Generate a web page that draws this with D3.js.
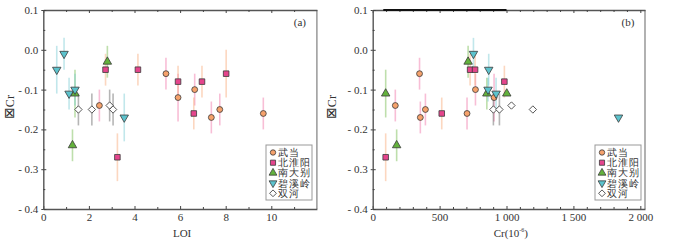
<!DOCTYPE html>
<html><head><meta charset="utf-8">
<script src="https://cdn.jsdelivr.net/npm/d3@7"></script>
<style>
body{margin:0;background:#fff;}
svg{display:block;}
text{font-family:"Liberation Serif","Times New Roman",serif;}
</style></head>
<body>
<svg id="c" width="700" height="241"></svg>
<script>
// ---------- DATA ----------
// each point: [x, dCr, error half-length]
const seriesNames = ["武当","北淮阳","南大别","碧溪岭","双河"];
// Panel (a): LOI
const wudangA   = [[2.46,-0.14,0.04],[5.38,-0.06,0.04],[5.91,-0.12,0.06],[6.64,-0.10,0.04],[7.37,-0.17,0.04],[7.74,-0.15,0.04],[9.65,-0.16,0.04]];
const beihuaiyangA = [[2.73,-0.05,0.04],[4.15,-0.05,0.04],[5.91,-0.08,0.04],[6.60,-0.16,0.04],[6.96,-0.08,0.04],[8.02,-0.06,0.06],[3.25,-0.27,0.06]];
const nandabieA = [[1.39,-0.11,0.06],[1.28,-0.24,0.04],[2.81,-0.03,0.04]];
const bixilingA = [[0.59,-0.05,0.06],[0.91,-0.01,0.04],[1.13,-0.11,0.04],[1.39,-0.10,0.04],[3.55,-0.17,0.06]];
const shuangheA = [[1.54,-0.15,0.04],[2.13,-0.15,0.04],[2.91,-0.14,0.04],[3.06,-0.15,0.04]];
// Panel (b): Cr (10^-6)
const wudangB   = [[350,-0.06,0.04],[169,-0.14,0.04],[394,-0.15,0.04],[356,-0.17,0.04],[705,-0.16,0.04],[768,-0.10,0.04],[907,-0.12,0.06]];
const beihuaiyangB = [[516,-0.16,0.04],[728,-0.05,0.04],[765,-0.05,0.04],[984,-0.08,0.04],[97,-0.27,0.06]];
const nandabieB = [[713,-0.03,0.04],[853,-0.11,0.04],[1002,-0.11,0],[179,-0.24,0.04],[97,-0.11,0.06]];
const bixilingB = [[753,-0.01,0.04],[867,-0.05,0.04],[862,-0.10,0.03],[922,-0.11,0.04],[1837,-0.17,0]];
const shuangheB = [[902,-0.15,0.04],[947,-0.15,0.04],[1037,-0.14,0],[1197,-0.15,0]];

const yTicks = [-0.4,-0.3,-0.2,-0.1,0.0,0.1];
const xTicksA = [0,2,4,6,8,10];
const xTicksB = [0,500,1000,1500,2000];
const xTickLabelsB = ["0","500","1 000","1 500","2 000"];

// ---------- STYLE ----------
const fills = ["#F6A26C","#E5458C","#63B23C","#5CC3CD","#ffffff"];
const errCols = ["rgba(240,110,165,0.45)","rgba(250,175,130,0.5)","rgba(110,185,70,0.45)","rgba(100,195,205,0.4)","rgba(90,90,90,0.45)"];
const shapes = ["circle","square","tri","itri","diamond"];

const svg = d3.select("#c");
const y = d3.scaleLinear([-0.4,0.1],[209,10]);
const yFmt = d => Math.abs(d)<1e-9 ? "0.0" : (d<0 ? "- "+Math.abs(d).toFixed(1) : d.toFixed(1));

function symbolPath(shape, s){
  if(shape==="circle") return d3.symbol(d3.symbolCircle, 27*s)();
  if(shape==="square") return d3.symbol(d3.symbolSquare, 31*s)();
  if(shape==="tri") return d3.symbol(d3.symbolTriangle, 31*s)();
  if(shape==="itri") return d3.symbol(d3.symbolTriangle, 31*s)();
  if(shape==="diamond") return d3.symbol(d3.symbolSquare, 27*s)();
}
function symbolRot(shape){ return shape==="itri"?180:(shape==="diamond"?45:0); }

function panel(opts){
  const {x, xTicks, xMinor, xTickFmt, xLabel, tag, data, titleX, legendX, extraTop} = opts;
  const [x0,x1] = x.range();
  const g = svg.append("g");
  g.append("line").attr("x1",x1).attr("x2",x1).attr("y1",10).attr("y2",209)
    .attr("stroke","#888").attr("stroke-width",1.3);
  g.append("g").attr("transform","translate(0,10)")
    .call(d3.axisTop(x).tickValues(xTicks).tickSize(-3).tickSizeOuter(0).tickFormat(""));
  g.append("g").attr("transform","translate(0,10)")
    .call(d3.axisTop(x).tickValues(xMinor).tickSize(-2).tickSizeOuter(0).tickFormat(""))
    .select(".domain").remove();
  if(extraTop){
    g.append("line").attr("x1",x(extraTop[0])).attr("x2",x(extraTop[1])).attr("y1",10).attr("y2",10)
      .attr("stroke","#111").attr("stroke-width",2);
  }
  g.append("g").attr("transform","translate(0,209)")
    .call(d3.axisBottom(x).tickValues(xTicks).tickSize(-3).tickSizeOuter(0).tickPadding(4).tickFormat(xTickFmt));
  g.append("g").attr("transform","translate(0,209)")
    .call(d3.axisBottom(x).tickValues(xMinor).tickSize(-2).tickSizeOuter(0).tickFormat(""))
    .select(".domain").remove();
  const left = g.append("g").attr("transform",`translate(${x0},0)`)
    .call(d3.axisLeft(y).tickValues(yTicks).tickSize(2).tickSizeOuter(0).tickPadding(3).tickFormat(yFmt));
  left.selectAll(".tick").append("line").attr("x1",0).attr("x2",3).attr("stroke","#555");
  g.append("g").attr("transform",`translate(${x0},0)`)
    .call(d3.axisLeft(y).tickValues([-0.35,-0.25,-0.15,-0.05,0.05]).tickSize(-2).tickSizeOuter(0).tickFormat(""))
    .select(".domain").remove();
  g.selectAll(".domain").attr("stroke","#555").attr("stroke-width",1.4);
  g.selectAll(".tick line").attr("stroke","#444");
  g.selectAll(".tick text").attr("font-size",11).attr("fill","#333")
    .attr("font-family",'"Liberation Serif","Times New Roman",serif');
  g.append("text").attr("x",x1-17).attr("y",26).attr("text-anchor","middle").attr("font-size",11).attr("fill","#333").text(tag);
  const xl = g.append("text").attr("x",(x0+x1)/2+2).attr("y",237).attr("text-anchor","middle").attr("font-size",11).attr("fill","#333");
  if(xLabel==="Cr"){
    xl.append("tspan").text("Cr(10");
    xl.append("tspan").attr("font-size",6).attr("dy",-5).text("-6");
    xl.append("tspan").attr("dy",5).text(")");
  } else xl.text(xLabel);
  const yt = g.append("text").attr("transform",`translate(${titleX},107) rotate(-90)`).attr("text-anchor","middle")
    .attr("font-size",12).attr("fill","#333");
  yt.append("tspan").attr("font-size",14).attr("font-family",'"DejaVu Sans",sans-serif').text("⊠");
  yt.append("tspan").text("Cr");
  data.forEach((ser,si)=>{
    g.append("g").selectAll("line").data(ser.filter(d=>d[2]>0)).join("line")
      .attr("x1",d=>x(d[0])).attr("x2",d=>x(d[0]))
      .attr("y1",d=>y(d[1]+d[2])).attr("y2",d=>y(d[1]-d[2]))
      .attr("stroke",errCols[si]).attr("stroke-width",1.6);
  });
  data.forEach((ser,si)=>{
    g.append("g").selectAll("path").data(ser).join("path")
      .attr("d",symbolPath(shapes[si],1))
      .attr("transform",d=>`translate(${x(d[0])},${y(d[1])}) rotate(${symbolRot(shapes[si])})`)
      .attr("fill",fills[si]).attr("stroke","#3a3a3a").attr("stroke-width",0.8);
  });
  const lg = g.append("g").attr("transform",`translate(${legendX},145)`);
  lg.append("rect").attr("x",0).attr("y",0).attr("width",46).attr("height",55)
    .attr("fill","#fff").attr("stroke","#999").attr("stroke-width",1);
  seriesNames.forEach((n,i)=>{
    const cy = 7.5+i*10.2;
    lg.append("path").attr("d",symbolPath(shapes[i],0.85))
      .attr("transform",`translate(7,${cy}) rotate(${symbolRot(shapes[i])})`)
      .attr("fill",fills[i]).attr("stroke","#3a3a3a").attr("stroke-width",0.8);
    lg.append("text").attr("x",12).attr("y",cy+3.5).attr("font-size",9.5).attr("letter-spacing",1.2)
      .attr("font-family",'"Noto Sans CJK SC",sans-serif').attr("fill","#333").text(n);
  });
}

const xA = d3.scaleLinear([0,12],[43.3,316.9]);
panel({x:xA, xTicks:xTicksA, xMinor:[1,3,5,7,9,11], xTickFmt:d=>String(d), xLabel:"LOI", tag:"(a)",
  data:[wudangA,beihuaiyangA,nandabieA,bixilingA,shuangheA], titleX:14, legendX:266});

const xB = d3.scaleLinear([0,2035],[372.7,645]);
const minorB = d3.range(100,2001,100).filter(v=>v%500!==0);
panel({x:xB, xTicks:xTicksB, xMinor:minorB, xTickFmt:(d,i)=>xTickLabelsB[i], xLabel:"Cr", tag:"(b)",
  data:[wudangB,beihuaiyangB,nandabieB,bixilingB,shuangheB], titleX:336, legendX:595, extraTop:[79,1000]});
</script>
</body></html>
